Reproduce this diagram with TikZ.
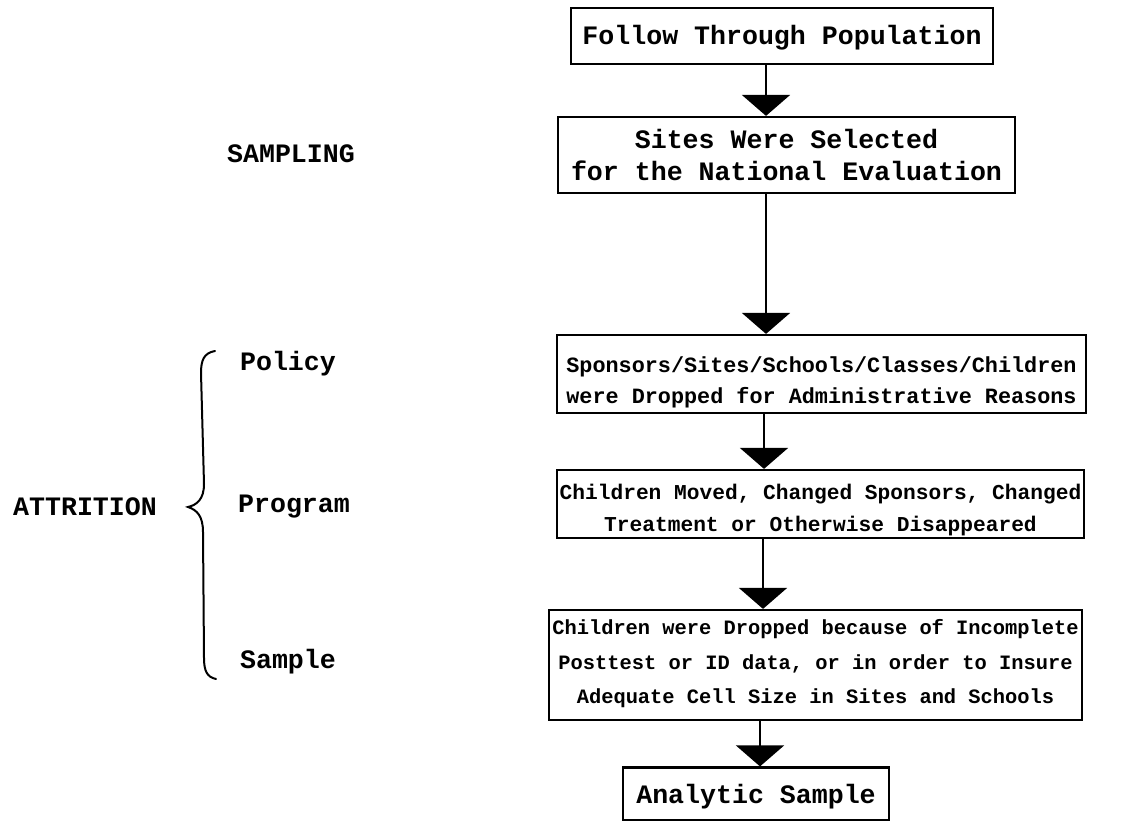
\documentclass[tikz,border=0pt]{standalone}
\usepackage{fontspec}
\setmonofont{Liberation Mono}
\usetikzlibrary{arrows.meta}
\begin{document}
\begin{tikzpicture}[x=1pt,y=-1pt,
  pica/.style={font=\ttfamily\bfseries\fontsize{26.6}{32}\selectfont},
  eliteA/.style={font=\ttfamily\bfseries\fontsize{21.8}{31}\selectfont},
  eliteB/.style={font=\ttfamily\bfseries\fontsize{21.2}{31.5}\selectfont},
  eliteC/.style={font=\ttfamily\bfseries\fontsize{20.4}{34.5}\selectfont},
  box/.style={draw, line width=2.2pt, inner sep=0pt},
  txt/.style={inner sep=0pt, align=center},
  label/.style={inner sep=0pt, font=\ttfamily\bfseries\fontsize{26.6}{32}\selectfont},
  arr/.style={line width=2pt, -{Triangle[width=48pt,length=21pt]}},
  bracestyle/.style={line width=2pt, line cap=round}
]
\useasboundingbox (0,0) rectangle (1126,821);
\fill[white] (0,0) rectangle (1126,821);

% boxes
\node[box, minimum width=422pt, minimum height=56pt] (b1) at (782,36) {};
\node[box, minimum width=457pt, minimum height=76pt] (b2) at (786.5,155) {};
\node[box, minimum width=529pt, minimum height=78pt] (b3) at (821.5,374) {};
\node[box, minimum width=527pt, minimum height=68pt] (b4) at (820.5,504) {};
\node[box, minimum width=533pt, minimum height=110pt] (b5) at (815.5,665) {};
\node[box, minimum width=266pt, minimum height=53pt] (b6) at (756,794) {};

% box texts (negative yshift moves text down)
\node[txt, pica] (t1) at ([yshift=-2pt]b1.center) {Follow Through Population};
\node[txt, pica] (t2) at (b2.center) {Sites Were Selected\\for the National Evaluation};
\node[txt, eliteA] (t3) at ([yshift=-8pt]b3.center) {Sponsors/Sites/Schools/Classes/Children\\were Dropped for Administrative Reasons};
\node[txt, eliteB] (t4) at ([yshift=-6pt]b4.center) {Children Moved, Changed Sponsors, Changed\\Treatment or Otherwise Disappeared};
\node[txt, eliteC] (t5) at ([yshift=1pt]b5.center) {Children were Dropped because of Incomplete\\Posttest or ID data, or in order to Insure\\Adequate Cell Size in Sites and Schools};
\node[txt, pica] (t6) at ([yshift=-3pt]b6.center) {Analytic Sample};

% connectors
\coordinate (x1) at (766,0);
\coordinate (x2) at (766,0);
\coordinate (x3) at (764,0);
\coordinate (x4) at (763,0);
\coordinate (x5) at (760,0);
\draw[arr] (b1.south -| x1) -- (b2.north -| x1);
\draw[arr] (b2.south -| x2) -- (b3.north -| x2);
\draw[arr] (b3.south -| x3) -- (b4.north -| x3);
\draw[arr] (b4.south -| x4) -- (b5.north -| x4);
\draw[arr] (b5.south -| x5) -- (b6.north -| x5);

% left labels
\node[label] (sampling) at (291,154) {SAMPLING};
\node[label] (policy) at (288,364) {Policy};
\node[label] (program) at (294,507) {Program};
\node[label] (sample) at (288,662) {Sample};
\node[label] (attrition) at (85,507) {ATTRITION};

% brace
\draw[bracestyle] (215,351) .. controls (204,353) and (201,360) .. (201,373)
  -- (204,484) .. controls (204,499) and (197,505) .. (188,507)
  .. controls (197,510) and (203,516) .. (203,532)
  -- (204,658) .. controls (204,671) and (207,677) .. (216,679);
\end{tikzpicture}
\end{document}
